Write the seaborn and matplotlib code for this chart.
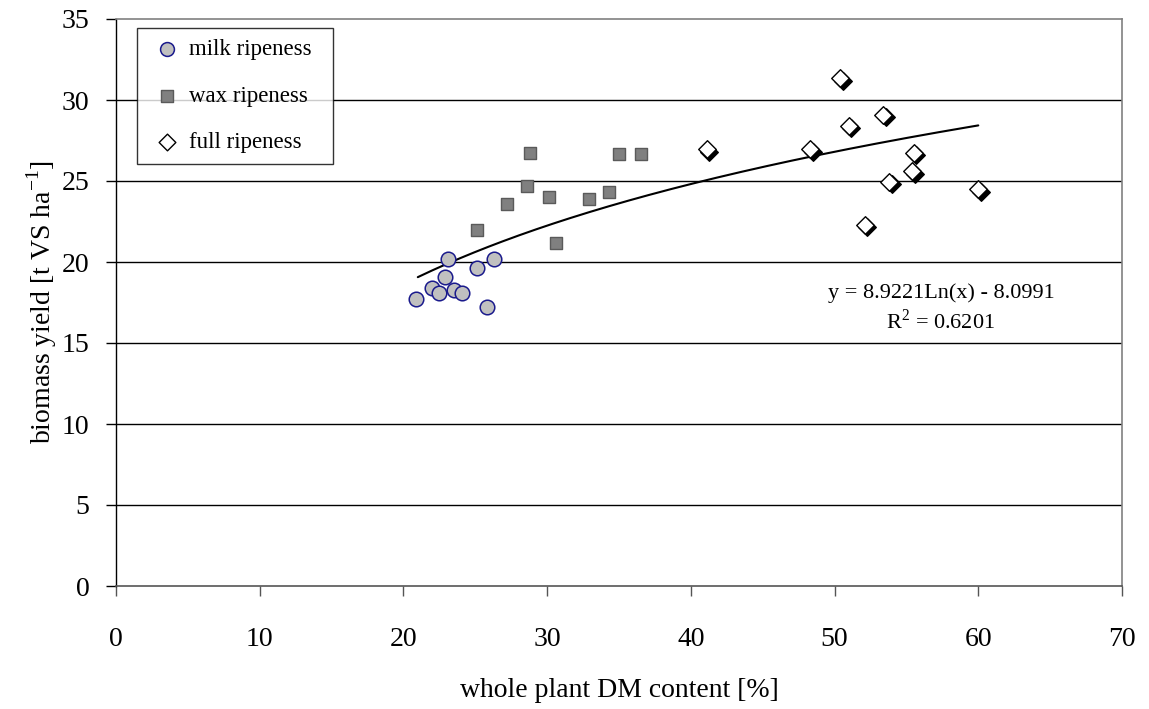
import numpy as np
import pandas as pd
import matplotlib
matplotlib.use("Agg")
import matplotlib.pyplot as plt
import matplotlib.transforms as mtransforms
import seaborn as sns

# ---- data ----
milk_x = [20.9, 22.0, 22.5, 22.9, 23.1, 23.5, 24.1, 25.1, 25.8, 26.3]
milk_y = [17.7, 18.4, 18.1, 19.1, 20.2, 18.3, 18.1, 19.6, 17.2, 20.2]
wax_x = [25.1, 27.2, 28.6, 28.8, 30.1, 30.6, 32.9, 34.3, 35.0, 36.5]
wax_y = [22.0, 23.6, 24.7, 26.75, 24.0, 21.2, 23.9, 24.3, 26.65, 26.65]
full_x = [41.1, 48.3, 50.4, 51.0, 52.1, 53.4, 53.8, 55.4, 55.5, 60.0]
full_y = [26.95, 26.95, 31.35, 28.4, 22.3, 29.1, 24.95, 25.6, 26.75, 24.5]
trend_a, trend_b = 8.9221, -8.0991
trend_range = [21.0, 60.0]
x_ticks = [0, 10, 20, 30, 40, 50, 60, 70]
y_ticks = [0, 5, 10, 15, 20, 25, 30, 35]

sns.set_style("white")
plt.rcParams['font.family'] = ['Liberation Serif', 'DejaVu Serif']
plt.rcParams['mathtext.fontset'] = 'custom'
plt.rcParams['mathtext.rm'] = 'Liberation Serif'
plt.rcParams['text.color'] = 'black'
plt.rcParams['axes.labelcolor'] = 'black'
plt.rcParams['xtick.color'] = 'black'
plt.rcParams['ytick.color'] = 'black'

fig = plt.figure(figsize=(11.49, 7.09), dpi=100)
ax = fig.add_axes([116/1149, 1 - 586/709, (1122-116)/1149, (586-19)/709])

# gridlines
for yv in y_ticks[1:-1]:
    ax.axhline(yv, color='black', lw=1.0, zorder=0)

# trend line
tx = np.linspace(trend_range[0], trend_range[1], 200)
trend_df = pd.DataFrame({'x': tx, 'y': trend_a * np.log(tx) + trend_b})
sns.lineplot(data=trend_df, x='x', y='y', color='black', lw=1.5, ax=ax, zorder=2)

milk = pd.DataFrame({'x': milk_x, 'y': milk_y})
wax = pd.DataFrame({'x': wax_x, 'y': wax_y})
full = pd.DataFrame({'x': full_x, 'y': full_y})

sns.scatterplot(data=milk, x='x', y='y', marker='o', s=110, color='#C0C0C0',
                edgecolor='#1a1a8c', linewidth=1.1, ax=ax, zorder=3, label='milk ripeness')
sns.scatterplot(data=wax, x='x', y='y', marker='s', s=80, color='#808080',
                edgecolor='#5a5a5a', linewidth=1.0, ax=ax, zorder=3, label='wax ripeness')
# shadow for diamonds
shadow_tr = mtransforms.offset_copy(ax.transData, fig=fig, x=1.8, y=-1.8, units='points')
ax.scatter(full['x'], full['y'], marker='D', s=80, color='black', edgecolor='black',
           linewidth=1.0, transform=shadow_tr, zorder=3)
sns.scatterplot(data=full, x='x', y='y', marker='D', s=80, color='white',
                edgecolor='black', linewidth=1.0, ax=ax, zorder=4, label='full ripeness')

ax.set_xlim(0, 70)
ax.set_ylim(0, 35)
ax.set_xticks(x_ticks)
ax.set_yticks(y_ticks)
ax.tick_params(axis='both', which='major', labelsize=20, length=7.2, width=1,
               direction='out', bottom=True, left=True)
ax.tick_params(axis='x', pad=22, color='#555555')
ax.tick_params(axis='y', pad=12, color='black')
ax.set_xlabel('whole plant DM content [%]', fontsize=20, labelpad=19)
ax.set_ylabel('biomass yield [t VS ha$^{-1}$]', fontsize=20, labelpad=2)

for side in ['top', 'right']:
    ax.spines[side].set_color('#808080')
    ax.spines[side].set_linewidth(1.2)
ax.spines['left'].set_color('black')
ax.spines['left'].set_linewidth(1.0)
ax.spines['bottom'].set_color('#555555')
ax.spines['bottom'].set_linewidth(1.2)

leg_x0 = (137 - 116) / 1006
leg_w = (333 - 137) / 1006
leg_top = (586 - 28) / 567
leg_h = (163 - 28) / 567
leg = ax.legend(loc='upper left', bbox_to_anchor=(leg_x0, leg_top - leg_h, leg_w, leg_h),
                mode='expand', borderaxespad=0, fontsize=16.5, frameon=True, fancybox=False,
                edgecolor='black', borderpad=0.5, labelspacing=1.1,
                handletextpad=0.15, markerscale=0.95, handlelength=1.6)
leg.get_frame().set_linewidth(1.0)

ax.text(57.4, 18.1, 'y = 8.9221Ln(x) - 8.0991', fontsize=16, ha='center', va='center')
ax.text(57.4, 16.3, 'R$^2$ = 0.6201', fontsize=16, ha='center', va='center')

fig.savefig('out.png', dpi=100)
